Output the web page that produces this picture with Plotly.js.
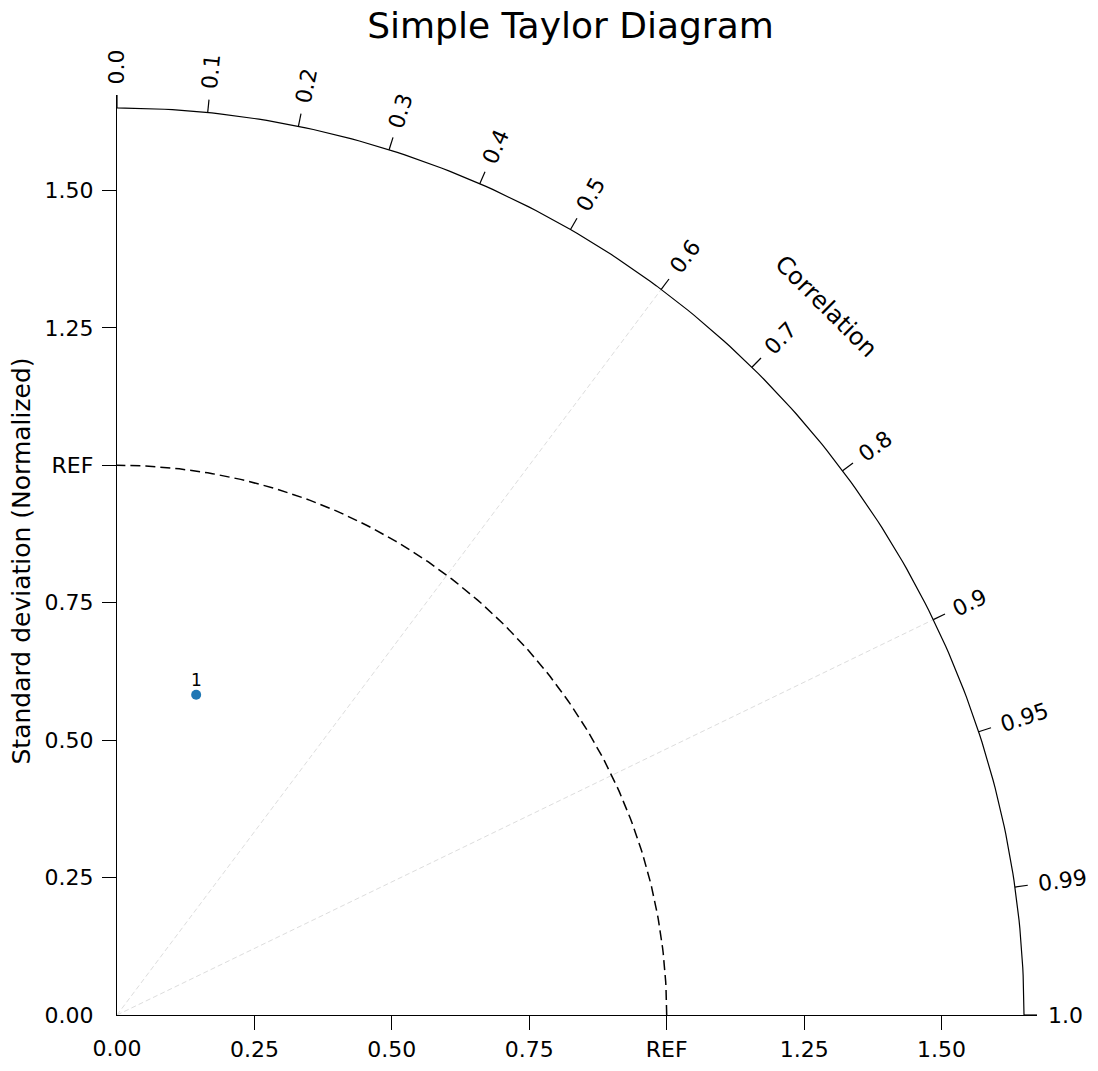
<!DOCTYPE html>
<html><head><meta charset="utf-8">
<script src="https://cdn.plot.ly/plotly-3.0.1.min.js"></script>
<style>html,body{margin:0;padding:0;background:#fff}</style>
</head><body><div id="chart" style="width:1098px;height:1071px"></div>
<script>
// ---- data ----
const sampleStd = [0.6];
const sampleCorr = [0.24];
const sampleLabels = ['1'];
const refStd = 1.0;
const maxStd = 1.65;
const stdTickVals = [0.25, 0.5, 0.75, 1.0, 1.25, 1.5];
const stdTickText = ['0.25', '0.50', '0.75', 'REF', '1.25', '1.50'];
const stdZeroVal = [0];
const stdZeroText = ['0.00'];
const corrTickVals = [0.0, 0.1, 0.2, 0.3, 0.4, 0.5, 0.6, 0.7, 0.8, 0.9, 0.95, 0.99, 1.0];
const corrTickText = ['0.0', '0.1', '0.2', '0.3', '0.4', '0.5', '0.6', '0.7', '0.8', '0.9', '0.95', '0.99', '1.0'];
const gridCorr = [0.6, 0.9];

// ---- styling / geometry ----
const PX = 550;                 // pixels per std unit
const corrTickPx = 13;
const ext = maxStd + corrTickPx / PX;
const FONT = 'DejaVu Sans, sans-serif';
const tickFontSize = 22;

function polar(r, c) { const t = Math.acos(c); return [r * Math.cos(t), r * Math.sin(t)]; }

// outer arc
const arcX = [], arcY = [];
for (let i = 0; i <= 180; i++) { const t = Math.PI / 2 * i / 180; arcX.push(maxStd * Math.cos(t)); arcY.push(maxStd * Math.sin(t)); }
// ref circle
const refX = [], refY = [];
for (let i = 0; i <= 180; i++) { const t = Math.PI / 2 * i / 180; refX.push(refStd * Math.cos(t)); refY.push(refStd * Math.sin(t)); }
// correlation ticks
const ctX = [], ctY = [];
corrTickVals.forEach(c => { const a = polar(maxStd, c), b = polar(ext, c); ctX.push(a[0], b[0], null); ctY.push(a[1], b[1], null); });
// grid lines
const gX = [], gY = [];
gridCorr.forEach(c => { const b = polar(maxStd, c); gX.push(0, b[0], null); gY.push(0, b[1], null); });

const sx = sampleStd.map((s, i) => s * sampleCorr[i]);
const sy = sampleStd.map((s, i) => s * Math.sqrt(1 - sampleCorr[i] * sampleCorr[i]));

const traces = [
  {x: gX, y: gY, mode: 'lines', line: {color: '#dddddd', width: 1, dash: '5px,3px'}, hoverinfo: 'skip'},
  {x: refX, y: refY, mode: 'lines', line: {color: '#000', width: 1.5, dash: '10px,5px'}, hoverinfo: 'skip'},
  {x: arcX, y: arcY, mode: 'lines', line: {color: '#000', width: 1.2}, hoverinfo: 'skip', xaxis: 'x2', yaxis: 'y2'},
  {x: ctX, y: ctY, mode: 'lines', line: {color: '#000', width: 1.2}, hoverinfo: 'skip'},
  {x: sx, y: sy, mode: 'markers', marker: {color: '#1f77b4', size: 10}, text: sampleLabels, hoverinfo: 'text'}
];

const annotations = [];
const H = 26, d = 931 - maxStd * PX;
corrTickVals.forEach((c, i) => {
  const t = Math.acos(c);
  const p = polar(maxStd, c);
  annotations.push({
    x: p[0], y: p[1], xref: 'x', yref: 'y', text: corrTickText[i], showarrow: false,
    textangle: -t * 180 / Math.PI, xanchor: 'left', yanchor: 'bottom', borderpad: 0, borderwidth: 0,
    xshift: d * Math.cos(t) - H / 2 * Math.sin(t), yshift: d * Math.sin(t) - H / 2 * Math.cos(t),
    font: {family: FONT, size: tickFontSize, color: '#000'}
  });
});
// correlation axis title
const cl = polar(1003 / PX, Math.cos(Math.PI / 4));
annotations.push({x: cl[0], y: cl[1], xref: 'x', yref: 'y', text: 'Correlation', showarrow: false,
  textangle: 45, xanchor: 'center', yanchor: 'middle', font: {family: FONT, size: 24, color: '#000'}});
// std axis title
annotations.push({x: 0, xshift: 21 - 117, y: maxStd / 2, xref: 'paper', yref: 'y', text: 'Standard deviation (Normalized)',
  showarrow: false, textangle: -90, xanchor: 'center', yanchor: 'middle', font: {family: FONT, size: 25, color: '#000'}});
// sample labels
sx.forEach((x, i) => annotations.push({x: x, y: sy[i], xref: 'x', yref: 'y', text: sampleLabels[i], showarrow: false,
  xanchor: 'center', yanchor: 'bottom', yshift: 5, borderpad: 0, borderwidth: 0, font: {family: FONT, size: 17, color: '#000'}}));

const axBase = {range: [0, ext], showgrid: false, zeroline: false, ticks: 'outside', ticklen: 14, tickwidth: 1.2,
  tickcolor: '#000', tickfont: {family: FONT, size: tickFontSize, color: '#000'}, fixedrange: true};

const layout = {
  width: 1098, height: 1071,
  margin: {l: 117, b: 56, r: 1098 - 117 - ext * PX, t: 1071 - 56 - ext * PX, pad: 0},
  paper_bgcolor: '#fff', plot_bgcolor: '#fff', showlegend: false,
  title: {text: 'Simple Taylor Diagram', font: {family: FONT, size: 36, color: '#000'},
    xref: 'paper', x: (maxStd / 2) / ext, xanchor: 'center', yref: 'container', y: 1 - 25 / 1071, yanchor: 'middle'},
  xaxis: Object.assign({}, axBase, {tickvals: stdTickVals, ticktext: stdTickText, showline: true, linecolor: '#000', linewidth: 1.2}),
  yaxis: Object.assign({}, axBase, {tickvals: stdTickVals, ticktext: stdTickText, showline: true, linecolor: '#000', linewidth: 1.2, ticklabelstandoff: 4}),
  xaxis2: Object.assign({}, axBase, {overlaying: 'x', tickvals: stdZeroVal, ticktext: stdZeroText, tickcolor: 'rgba(0,0,0,0)', showline: false}),
  yaxis2: Object.assign({}, axBase, {overlaying: 'y', tickvals: stdZeroVal, ticktext: stdZeroText, tickcolor: 'rgba(0,0,0,0)', showline: false, ticklabelstandoff: 4}),
  annotations: annotations
};

Plotly.newPlot('chart', traces, layout, {displayModeBar: false, staticPlot: true});
</script></body></html>
